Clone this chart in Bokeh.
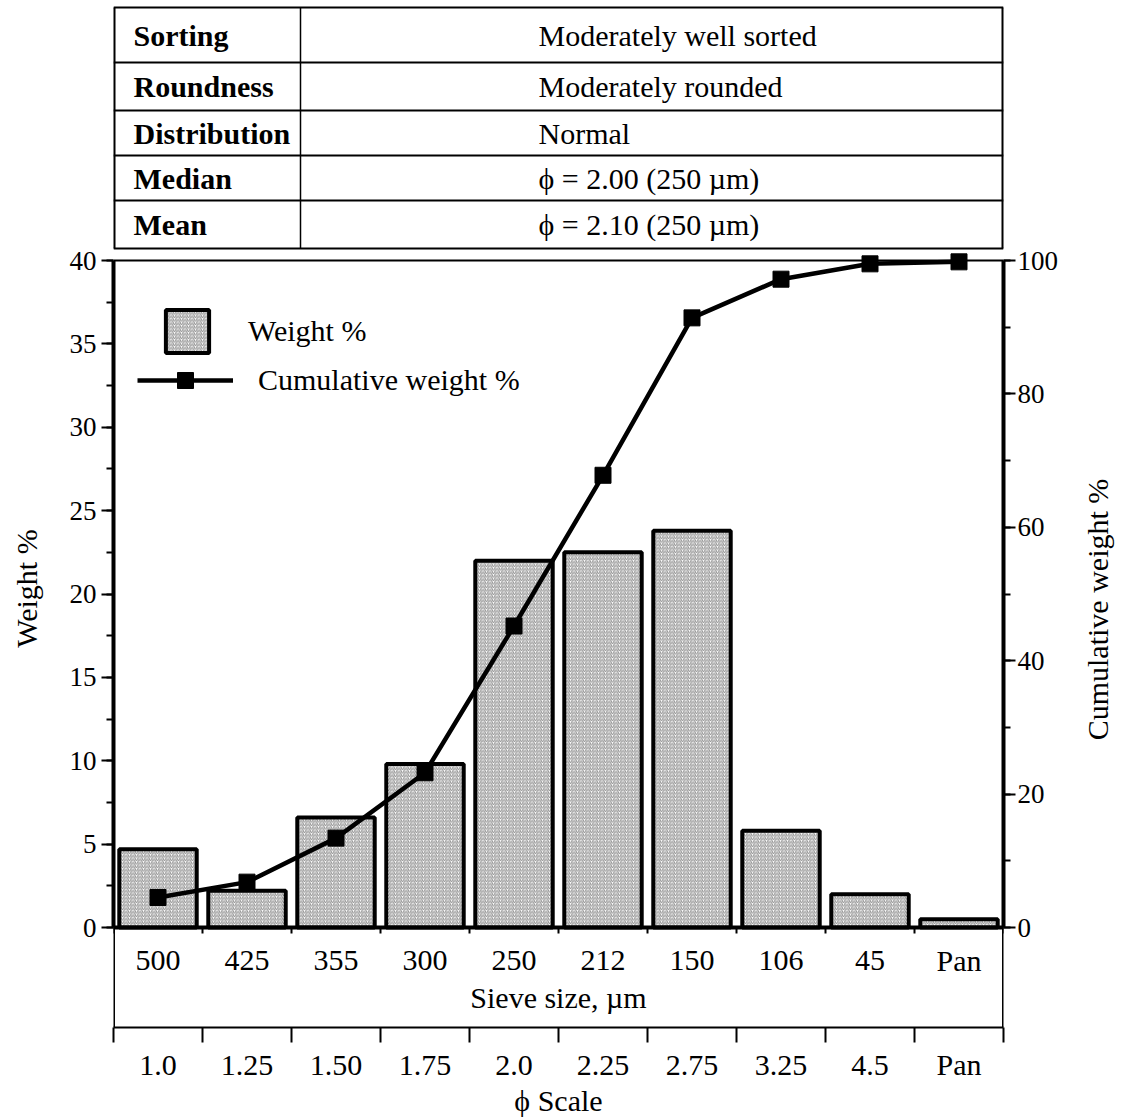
import math
from bokeh.plotting import figure
from bokeh.layouts import row
from bokeh.models import (Range1d, LinearAxis, FixedTicker, SingleIntervalTicker, Legend,
                          LegendItem, ColumnDataSource, CustomJSTickFormatter)
from bokeh.core.properties import value
from bokeh.embed import file_html
from bokeh.resources import INLINE

# ---------------- data ----------------
sieve_sizes = ["500", "425", "355", "300", "250", "212", "150", "106", "45", "Pan"]
phi_labels = ["1.0", "1.25", "1.50", "1.75", "2.0", "2.25", "2.75", "3.25", "4.5", "Pan"]
weight_pct = [4.7, 2.2, 6.6, 9.8, 22.0, 22.5, 23.8, 5.8, 2.0, 0.5]
cumulative_pct = [4.5, 6.8, 13.4, 23.2, 45.2, 67.8, 91.4, 97.2, 99.5, 99.8]
table_keys = ["Sorting", "Roundness", "Distribution", "Median", "Mean"]
table_values = ["Moderately well sorted", "Moderately  rounded", "Normal",
                "\u03d5 = 2.00 (250 \u00b5m)", "\u03d5 = 2.10 (250 \u00b5m)"]
left_title = "Weight %"
right_title = "Cumulative weight %"

# ---------------- layout constants (pixels) ----------------
W, H = 1123, 1119
LW, RW = 52, 58             # side strips that hold the rotated axis titles
MX0, MX1 = LW, W - RW       # main figure spans these page columns
FL, FR = 113, 1003          # frame left / right (page px)
FT, FB = 0, 1027            # frame top / bottom (phi axis line)
Y0, YTOP = 927, 260         # pixel rows of weight 0 and weight 40
W_MAX, C_MAX = 40.0, 100.0
ppw = (Y0 - YTOP) / W_MAX
ppc = (Y0 - YTOP) / C_MAX
FONT = "Liberation Serif"

n = len(sieve_sizes)
centers = [i + 0.5 for i in range(n)]
edges = list(range(n + 1))

p = figure(width=MX1 - MX0, height=H, output_backend="svg", toolbar_location=None,
           x_range=Range1d(0, n),
           y_range=Range1d((Y0 - FB) / ppw, (Y0 - FT) / ppw),
           min_border_left=FL - MX0, min_border_right=MX1 - FR,
           min_border_top=FT, min_border_bottom=H - FB,
           outline_line_color=None, background_fill_color="white",
           border_fill_color="white")
p.extra_y_ranges = {"cum": Range1d((Y0 - FB) / ppc, (Y0 - FT) / ppc),
                    "py": Range1d(FB, FT)}
p.extra_x_ranges = {"px": Range1d(FL, FR)}
p.xgrid.visible = False
p.ygrid.visible = False

def style_axis(ax, standoff):
    ax.axis_line_width = 4
    ax.major_tick_out = 12
    ax.major_tick_in = 0
    ax.minor_tick_out = 7
    ax.minor_tick_in = 0
    ax.major_tick_line_width = 2
    ax.minor_tick_line_width = 2
    ax.major_label_standoff = standoff
    ax.major_label_text_font = FONT
    ax.major_label_text_font_size = "27px"
    ax.major_label_text_color = "black"

# ---------------- left axis ----------------
ya = p.yaxis[0]
ya.bounds = (0, W_MAX)
ya.ticker = SingleIntervalTicker(interval=5, num_minor_ticks=2)
style_axis(ya, 5)

# ---------------- right axis ----------------
ra = LinearAxis(y_range_name="cum", bounds=(0, C_MAX),
                ticker=SingleIntervalTicker(interval=20, num_minor_ticks=2))
style_axis(ra, 2)
p.add_layout(ra, "right")

# ---------------- phi axis (bottom) ----------------
xa = p.xaxis[0]
xa.ticker = FixedTicker(ticks=centers, minor_ticks=edges)
xa.formatter = CustomJSTickFormatter(args=dict(labels=phi_labels),
                                     code="return labels[Math.floor(tick)];")
xa.axis_line_width = 2
xa.major_tick_out = 0
xa.major_tick_in = 0
xa.minor_tick_out = 15
xa.minor_tick_in = 0
xa.minor_tick_line_width = 2
xa.major_label_standoff = 5
xa.major_label_text_font = FONT
xa.major_label_text_font_size = "30px"
xa.major_label_text_color = "black"
xa.axis_label = "\u03d5 Scale"
xa.axis_label_text_font = FONT
xa.axis_label_text_font_size = "30px"
xa.axis_label_text_font_style = "normal"
xa.axis_label_text_color = "black"
xa.axis_label_standoff = 0

# ---------------- bars and cumulative line ----------------
src = ColumnDataSource(dict(x=centers, w=weight_pct, c=cumulative_pct, s=sieve_sizes))
bars = p.vbar(x="x", top="w", bottom=0, width=0.87, source=src,
              fill_color="#ffffff", hatch_pattern="/", hatch_color="#8f8f8f",
              hatch_scale=3.5, hatch_weight=1, line_color="black", line_width=4)

# zero line, top border, sieve-axis ticks, lower box sides
p.segment(x0=[0], y0=[0], x1=[n], y1=[0], line_color="black", line_width=4)
p.segment(x0=[0], y0=[W_MAX], x1=[n], y1=[W_MAX], line_color="black", line_width=2)
p.segment(x0=edges, y0=[Y0] * len(edges), x1=edges, y1=[Y0 + 6] * len(edges),
          y_range_name="py", line_color="black", line_width=2)
p.segment(x0=[0, n], y0=[Y0, Y0], x1=[0, n], y1=[FB, FB], y_range_name="py",
          line_color="black", line_width=3)

cum_line = p.line(x="x", y="c", source=src, y_range_name="cum",
                  line_color="black", line_width=4.5)
cum_pts = p.scatter(x="x", y="c", source=src, y_range_name="cum", marker="square",
                    size=16, fill_color="black", line_color="black")

# sieve size labels
p.text(x="x", y=960, text="s", source=src,
       y_range_name="py", text_align="center", text_baseline="middle",
       text_font=value(FONT), text_font_size="30px", text_color="black")
p.text(x=[n / 2], y=[997], text=["Sieve size, \u00b5m"], y_range_name="py",
       text_align="center", text_baseline="middle",
       text_font=value(FONT), text_font_size="30px", text_color="black")

# ---------------- table ----------------
row_edges = [7, 62, 110, 155, 200, 248]
row_mid = [(row_edges[i] + row_edges[i + 1]) / 2 for i in range(len(table_keys))]
p.segment(x0=[FL] * len(row_edges), y0=row_edges, x1=[FR] * len(row_edges), y1=row_edges,
          x_range_name="px", y_range_name="py", line_color="black", line_width=2)
p.segment(x0=[FL, FR], y0=[row_edges[0]] * 2, x1=[FL, FR], y1=[row_edges[-1]] * 2,
          x_range_name="px", y_range_name="py", line_color="black", line_width=4)
p.segment(x0=[300], y0=[row_edges[0]], x1=[300], y1=[row_edges[-1]],
          x_range_name="px", y_range_name="py", line_color="black", line_width=1.5)
tsrc = ColumnDataSource(dict(k=table_keys, v=table_values, y=row_mid,
                             xk=[133] * len(table_keys), xv=[538] * len(table_keys)))
p.text(x="xk", y="y", text="k", source=tsrc, x_range_name="px", y_range_name="py",
       text_align="left", text_baseline="middle", text_font=value(FONT),
       text_font_style="bold", text_font_size="30px", text_color="black")
p.text(x="xv", y="y", text="v", source=tsrc, x_range_name="px", y_range_name="py",
       text_align="left", text_baseline="middle", text_font=value(FONT),
       text_font_size="30px", text_color="black")

# ---------------- legends ----------------
leg1 = Legend(items=[LegendItem(label="Weight %", renderers=[bars])],
              location=(47, FB - 358), glyph_width=54, glyph_height=54,
              label_standoff=34, padding=0, margin=0, spacing=0,
              border_line_color=None, background_fill_alpha=0,
              label_text_font=FONT, label_text_font_size="30px",
              label_text_color="black")
leg2 = Legend(items=[LegendItem(label="Cumulative weight %", renderers=[cum_line, cum_pts])],
              location=(24, FB - 400), glyph_width=96, glyph_height=40,
              label_standoff=25, padding=0, margin=0, spacing=0,
              border_line_color=None, background_fill_alpha=0,
              label_text_font=FONT, label_text_font_size="30px",
              label_text_color="black")
p.add_layout(leg1)
p.add_layout(leg2)

# ---------------- rotated axis titles in side strips ----------------
# (row layouts align frame borders, so the strips share the main figure's borders)
def title_strip(width, text, cx, cy):
    f = figure(width=width, height=H, output_backend="svg", toolbar_location=None,
               x_range=Range1d(0, width), y_range=Range1d(FT, FB),
               x_axis_location=None, y_axis_location=None,
               min_border_left=0, min_border_right=0,
               min_border_top=FT, min_border_bottom=H - FB,
               outline_line_color=None,
               background_fill_color="white", border_fill_color="white")
    f.grid.visible = False
    f.text(x=[cx], y=[FB - cy], text=[text], angle=math.pi / 2,
           text_align="center", text_baseline="middle",
           text_font=value(FONT), text_font_size="30px", text_color="black")
    return f

left_fig = title_strip(LW, left_title, 26, 588)
right_fig = title_strip(RW, right_title, 1097 - MX1, 609)

layout = row(left_fig, p, right_fig, spacing=0)
open("out.html", "w").write(file_html(layout, INLINE))
